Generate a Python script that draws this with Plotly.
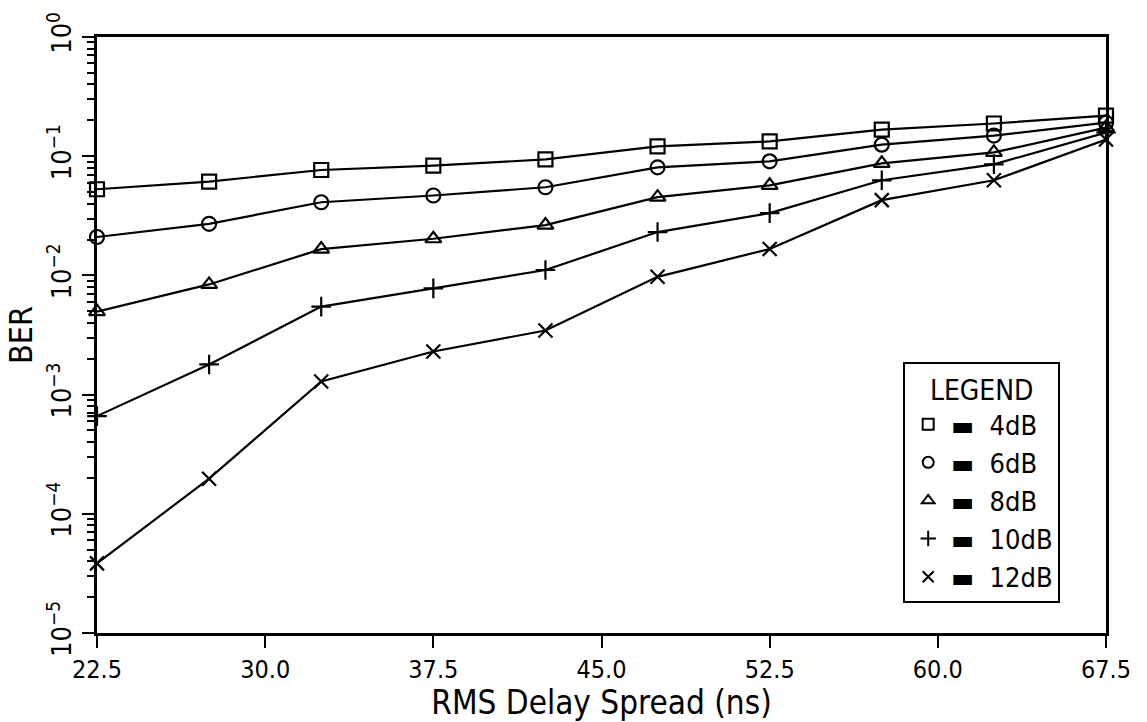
import plotly.graph_objects as go

# ---- data ----
rms_delay_ns = [22.5, 27.5, 32.5, 37.5, 42.5, 47.5, 52.5, 57.5, 62.5, 67.5]

ber_4db = [0.0528, 0.0612, 0.0766, 0.0833, 0.094, 0.121, 0.133, 0.167, 0.188, 0.219]
ber_6db = [0.0210, 0.0271, 0.0411, 0.0468, 0.0549, 0.0806, 0.0906, 0.125, 0.149, 0.191]
ber_8db = [0.00497, 0.0084, 0.0166, 0.0203, 0.0264, 0.0453, 0.057, 0.0871, 0.1076, 0.174]
ber_10db = [0.00066, 0.00179, 0.00547, 0.00778, 0.0111, 0.0231, 0.0333, 0.0628, 0.0855, 0.158]
ber_12db = [0.0000384, 0.000197, 0.00129, 0.0023, 0.00345, 0.00973, 0.01667, 0.0428, 0.0628, 0.138]

series_names = ["4dB", "6dB", "8dB", "10dB", "12dB"]
series_values = [ber_4db, ber_6db, ber_8db, ber_10db, ber_12db]
series_symbols = ["square-open", "circle-open", "triangle-up-open", "cross-thin-open", "x-thin-open"]

x_tick_vals = [22.5, 30.0, 37.5, 45.0, 52.5, 60.0, 67.5]
y_decades = [-5, -4, -3, -2, -1, 0]
y_tick_text = ["10<sup>−5</sup>", "10<sup>−4</sup>", "10<sup>−3</sup>",
               "10<sup>−2</sup>", "10<sup>−1</sup>", "10<sup>0</sup>"]

FONT = "DejaVu Sans Condensed, DejaVu Sans, sans-serif"

fig = go.Figure()

for name, vals, sym in zip(series_names, series_values, series_symbols):
    fig.add_trace(go.Scatter(
        x=rms_delay_ns, y=vals, mode="lines+markers",
        line=dict(color="black", width=2.2),
        marker=dict(symbol=sym, size=14, color="black", line=dict(color="black", width=2.2)),
        cliponaxis=False, showlegend=False, name=name,
    ))

# legend-only entries (marker only, like the reference)
for name, sym in zip(series_names, series_symbols):
    fig.add_trace(go.Scatter(
        x=[None], y=[None], mode="markers",
        marker=dict(symbol=sym, size=11, color="black", line=dict(color="black", width=2)),
        name="▬  " + name, showlegend=True,
    ))

minor_vals = [k * 10 ** e for e in range(-5, 0) for k in range(2, 10)]

fig.update_layout(
    width=1147, height=722,
    margin=dict(l=97, r=41, t=34, b=89),
    paper_bgcolor="white", plot_bgcolor="white",
    font=dict(family=FONT, color="black", size=24),
    legend=dict(
        x=0.799, y=0.455, xanchor="left", yanchor="top",
        bgcolor="white", bordercolor="black", borderwidth=2,
        font=dict(size=27, family=FONT, color="black"),
        title=dict(text="LEGEND", side="top center", font=dict(size=28, family=FONT)),
        itemwidth=36, tracegroupgap=0,
    ),
    xaxis=dict(
        range=[22.5, 67.5], tickvals=x_tick_vals, tickformat=".1f",
        ticks="outside", ticklen=12, tickwidth=2, tickcolor="black",
        showline=True, linewidth=2.5, linecolor="black", mirror=True,
        showgrid=False, zeroline=False,
        tickfont=dict(size=25, family=FONT),
        title=dict(text="RMS Delay Spread (ns)", font=dict(size=33, family=FONT), standoff=0),
    ),
    yaxis=dict(
        type="log", range=[-5, 0],
        tickvals=[10 ** d for d in y_decades], ticktext=y_tick_text,
        tickangle=-90,
        ticks="outside", ticklen=12, tickwidth=2, tickcolor="black",
        minor=dict(tickvals=minor_vals, ticks="outside", ticklen=7, tickwidth=1.5, tickcolor="black"),
        showline=True, linewidth=2.5, linecolor="black", mirror=True,
        showgrid=False, zeroline=False,
        tickfont=dict(size=27, family=FONT),
        title=dict(text="BER", font=dict(size=32, family=FONT), standoff=0),
    ),
)

fig.write_html("out.html")
